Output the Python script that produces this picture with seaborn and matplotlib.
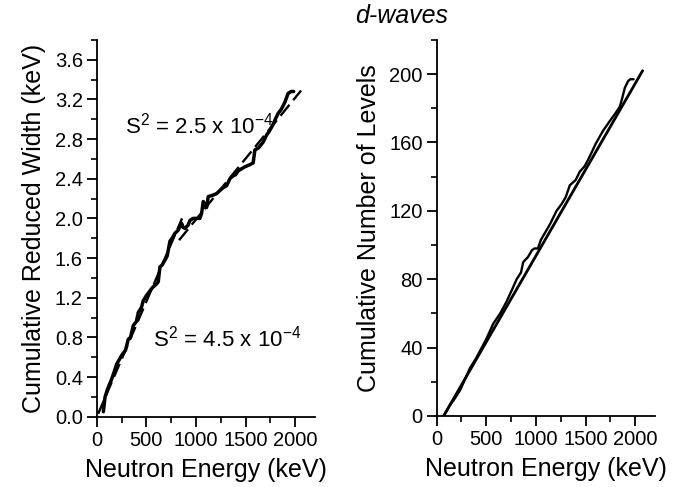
import matplotlib
matplotlib.use("Agg")
import matplotlib.pyplot as plt
import seaborn as sns
import pandas as pd
from matplotlib.ticker import MultipleLocator, FormatStrFormatter

# ---- data ----
left_energy = [67, 84, 110, 151, 175, 201, 230, 252, 290, 318, 340, 369, 400, 419, 450, 469,
               500, 530, 560, 604, 620, 637, 660, 688, 710, 738, 760, 789, 820, 856, 870, 889,
               920, 940, 970, 1007, 1040, 1057, 1074, 1090, 1108, 1124, 1160, 1208, 1240, 1275,
               1310, 1342, 1376, 1400, 1426, 1443, 1493, 1540, 1577, 1594, 1630, 1678, 1712,
               1740, 1779, 1800, 1829, 1860, 1896, 1929, 1960, 1985]
left_width = [0.05, 0.20, 0.28, 0.38, 0.45, 0.53, 0.58, 0.62, 0.67, 0.78, 0.80, 0.92, 0.96, 1.05,
              1.10, 1.17, 1.22, 1.26, 1.30, 1.34, 1.36, 1.51, 1.53, 1.58, 1.62, 1.77, 1.80, 1.85,
              1.88, 1.95, 1.91, 1.90, 1.93, 1.98, 2.00, 2.00, 2.00, 2.05, 2.17, 2.14, 2.11, 2.22,
              2.23, 2.25, 2.28, 2.31, 2.33, 2.40, 2.43, 2.44, 2.48, 2.49, 2.52, 2.54, 2.56, 2.69,
              2.71, 2.77, 2.84, 2.88, 2.95, 3.00, 3.06, 3.10, 3.17, 3.26, 3.28, 3.28]

fit1_energy = [15, 860]
fit1_width = [0.03, 2.00]
fit2_energy = [830, 2060]
fit2_width = [1.78, 3.29]

right_energy = [80, 130, 180, 235, 290, 335, 390, 436, 500, 570, 640, 705, 760, 806, 850, 872,
                920, 960, 985, 1020, 1050, 1080, 1140, 1208, 1259, 1300, 1342, 1400, 1443, 1490,
                1527, 1560, 1600, 1678, 1750, 1800, 1846, 1870, 1896, 1930, 1950, 1985]
right_levels = [1, 6, 10, 15, 22, 28, 33, 38, 45, 54, 60, 67, 74, 80, 84, 90, 93, 97, 98, 98,
                103, 106, 112, 120, 124, 128, 135, 138, 143, 146, 150, 154, 159, 167, 173, 177,
                181, 186, 192, 196, 197, 197]

line_energy = [70, 2075]
line_levels = [0, 202]

label_s2_upper = r"S$^{\mathrm{2}}$ = 2.5 x 10$^{\mathrm{-4}}$"
label_s2_lower = r"S$^{\mathrm{2}}$ = 4.5 x 10$^{\mathrm{-4}}$"

# ---- style ----
sns.set_style("ticks")
plt.rcParams["font.family"] = ["Liberation Sans", "DejaVu Sans"]
plt.rcParams["mathtext.fontset"] = "custom"
plt.rcParams["mathtext.rm"] = "Liberation Sans"
plt.rcParams["mathtext.it"] = "Liberation Sans:italic"
plt.rcParams["axes.linewidth"] = 1.3
plt.rcParams["axes.edgecolor"] = "black"
plt.rcParams["text.color"] = "black"
plt.rcParams["axes.labelcolor"] = "black"
plt.rcParams["xtick.color"] = "black"
plt.rcParams["ytick.color"] = "black"

fig = plt.figure(figsize=(6.84, 4.87), dpi=100)
ax1 = fig.add_axes([0.1414, 0.1444, 0.3191, 0.7736])
ax2 = fig.add_axes([0.6384, 0.1458, 0.3192, 0.7722])

df_left = pd.DataFrame({"E": left_energy, "W": left_width})
df_f1 = pd.DataFrame({"E": fit1_energy, "W": fit1_width})
df_f2 = pd.DataFrame({"E": fit2_energy, "W": fit2_width})
df_right = pd.DataFrame({"E": right_energy, "N": right_levels})
df_line = pd.DataFrame({"E": line_energy, "N": line_levels})

sns.lineplot(data=df_f1, x="E", y="W", ax=ax1, color="black", lw=1.7,
             linestyle=(0, (6, 2.5)), sort=False, estimator=None)
sns.lineplot(data=df_f2, x="E", y="W", ax=ax1, color="black", lw=1.7,
             linestyle=(0, (6, 2.5)), sort=False, estimator=None)
sns.lineplot(data=df_left, x="E", y="W", ax=ax1, color="black", lw=2.5,
             sort=False, estimator=None)

sns.lineplot(data=df_line, x="E", y="N", ax=ax2, color="black", lw=2.0,
             sort=False, estimator=None)
sns.lineplot(data=df_right, x="E", y="N", ax=ax2, color="black", lw=1.7,
             sort=False, estimator=None)

for ax in (ax1, ax2):
    sns.despine(ax=ax)
    ax.set_xlim(0, 2200)
    ax.xaxis.set_major_locator(MultipleLocator(500))
    ax.xaxis.set_minor_locator(MultipleLocator(250))
    ax.tick_params(which="major", direction="out", length=7, width=1.3,
                   labelsize=14.5, colors="black", pad=3)
    ax.tick_params(which="minor", direction="out", length=4, width=1.2, colors="black")
    ax.set_xlabel("Neutron Energy (keV)", fontsize=18, labelpad=6)
    ax.set_xticks([0, 500, 1000, 1500, 2000])

ax1.set_ylim(0, 3.8)
ax1.yaxis.set_major_locator(MultipleLocator(0.4))
ax1.yaxis.set_minor_locator(MultipleLocator(0.2))
ax1.yaxis.set_major_formatter(FormatStrFormatter("%.1f"))
ax1.set_ylabel("Cumulative Reduced Width (keV)", fontsize=18, labelpad=6)

ax2.set_ylim(0, 220)
ax2.yaxis.set_major_locator(MultipleLocator(40))
ax2.yaxis.set_minor_locator(MultipleLocator(20))
ax2.set_ylabel("Cumulative Number of Levels", fontsize=18, labelpad=6)

ax1.text(285, 2.94, label_s2_upper, fontsize=16, va="center", ha="left")
ax1.text(570, 0.79, label_s2_lower, fontsize=16, va="center", ha="left")

fig.text(355 / 684, 1 - 16 / 487, "d-waves", fontsize=18, style="italic",
         va="center", ha="left")

fig.savefig("out.png", dpi=100)
